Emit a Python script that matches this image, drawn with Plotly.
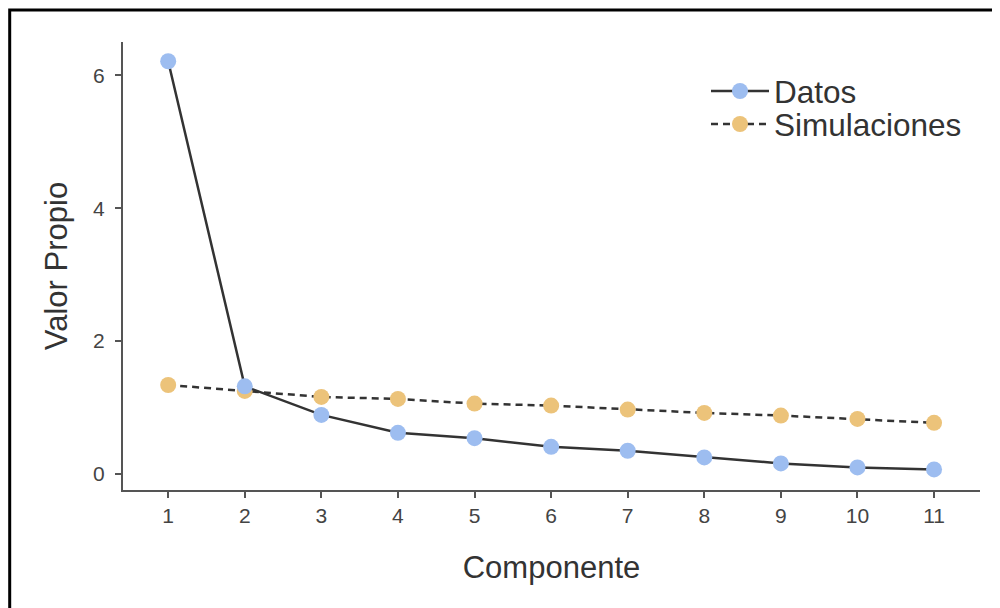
import plotly.graph_objects as go

componentes = [1, 2, 3, 4, 5, 6, 7, 8, 9, 10, 11]
datos = [6.21, 1.32, 0.89, 0.62, 0.54, 0.41, 0.35, 0.25, 0.16, 0.10, 0.07]
simulaciones = [1.34, 1.25, 1.16, 1.13, 1.06, 1.03, 0.97, 0.92, 0.88, 0.83, 0.77]
y_ticks = [0, 2, 4, 6]

blue = "#9dbdf0"
orange = "#ecc37a"
line_col = "#333333"
axis_col = "#555555"
font_fam = "Liberation Sans, Arial, sans-serif"

# the page body has an 8px margin: figure coords = screen coords - 8
L, T, R, B = 115, 34, 28, 126
PW, PH = 1000 - L - R, 608 - T - B

fig = go.Figure()
fig.add_trace(go.Scatter(
    x=componentes, y=simulaciones, name="Simulaciones", mode="lines+markers",
    line=dict(color=line_col, width=2.5, dash="7px,5px"),
    marker=dict(color=orange, size=16, line=dict(width=0)),
    legend="legend2",
))
fig.add_trace(go.Scatter(
    x=componentes, y=datos, name="Datos", mode="lines+markers",
    line=dict(color=line_col, width=2.5),
    marker=dict(color=blue, size=16, line=dict(width=0)),
    legend="legend",
))

leg_common = dict(
    xanchor="left", yanchor="top",
    font=dict(size=31.5, color="#333333", family=font_fam),
    bgcolor="rgba(0,0,0,0)", itemwidth=58,
)
leg_x = (740 - 8 - 34 - L) / PW

fig.update_layout(
    width=1000, height=608,
    margin=dict(l=L, r=R, t=T, b=B),
    paper_bgcolor="white", plot_bgcolor="white",
    font=dict(family=font_fam, color="#444444"),
    showlegend=True,
    legend=dict(x=leg_x, y=1 - (56 - T) / PH, **leg_common),
    legend2=dict(x=leg_x, y=1 - (89 - T) / PH, **leg_common),
    xaxis=dict(
        range=[0.41, 11.6], tickvals=componentes, ticktext=[str(c) for c in componentes],
        showline=True, linecolor=axis_col, linewidth=2,
        ticks="outside", ticklen=6, tickwidth=2, tickcolor=axis_col,
        showgrid=False, zeroline=False,
        tickfont=dict(size=21, color="#444444"),
        title=dict(text="Componente", font=dict(size=31, color="#333333"), standoff=30),
    ),
    yaxis=dict(
        range=[-0.24, 6.5], tickvals=y_ticks, ticktext=[str(v) for v in y_ticks],
        showline=True, linecolor=axis_col, linewidth=2,
        ticks="outside", ticklen=6, tickwidth=2, tickcolor=axis_col,
        showgrid=False, zeroline=False, ticklabelstandoff=6,
        tickfont=dict(size=21, color="#444444"),
        title=dict(text="Valor Propio", font=dict(size=31, color="#333333"), standoff=16),
    ),
    shapes=[dict(
        type="rect", xref="paper", yref="paper",
        x0=(9.7 - 8 - L) / PW, x1=(1040 - L) / PW,
        y0=-0.4, y1=1 + (T - 2) / PH,
        line=dict(color="black", width=3), fillcolor="rgba(0,0,0,0)", layer="below",
    )],
)

fig.write_html("out.html")
